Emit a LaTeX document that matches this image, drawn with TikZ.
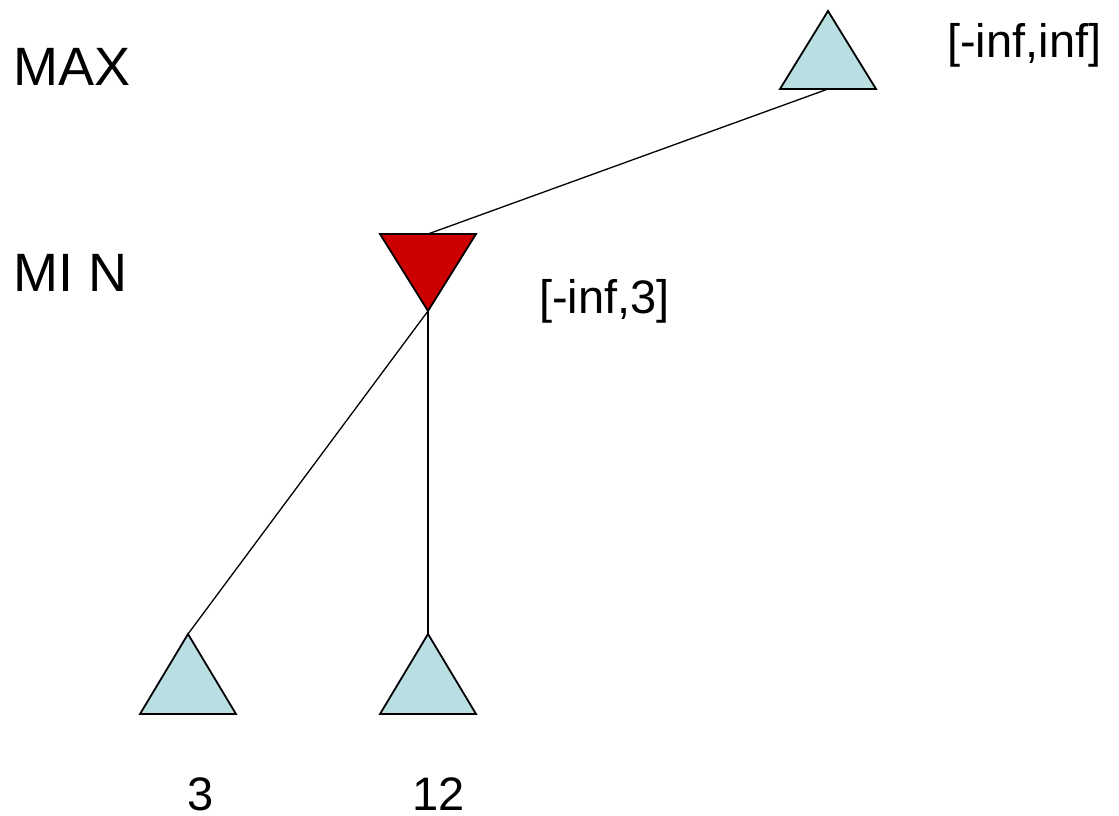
\documentclass[tikz,border=0pt]{standalone}
\usepackage{fontspec}
\setmainfont{Liberation Sans}
\definecolor{TreeBlue}{HTML}{B9DFE3}
\definecolor{TreeRed}{HTML}{CC0000}

\begin{document}
\begin{tikzpicture}[x=1bp,y=-1bp,
  tri/.style={draw=black,line width=1.8bp,line join=miter},
  maxtri/.style={tri,fill=TreeBlue},
  mintri/.style={tri,fill=TreeRed},
  edge/.style={draw=black,line width=1.3bp},
  big/.style={inner sep=0pt,anchor=base west,font=\fontsize{54bp}{60bp}\selectfont},
  small/.style={inner sep=0pt,font=\fontsize{47bp}{54bp}\selectfont}]
  \useasboundingbox (0,0) rectangle (1119,816);
  % tree points
  \coordinate (root) at (828,11);
  \coordinate (rootbase) at (828,89);
  \coordinate (mintop) at (428,234);
  \coordinate (min) at (428,311);
  \coordinate (leafa) at (188,634);
  \coordinate (leafb) at (428,634);
  % connectors first, triangles on top
  \draw[edge] (rootbase) -- (mintop);
  \draw[edge] (min) -- (leafa);
  \draw[edge] (min) -- (leafb);
  % triangles
  \draw[maxtri] (root) -- ++(48,78) -- ++(-96,0) -- cycle;
  \draw[mintri] (min) -- ++(48,-77) -- ++(-96,0) -- cycle;
  \foreach \leaf in {leafa,leafb}
    \draw[maxtri] (\leaf) -- ++(48,80) -- ++(-96,0) -- cycle;
  % labels
  \node[big] (maxlbl) at (13,86) {MAX};
  \node[big] (minlbl) at (13,291) {MI N};
  \node[small,anchor=base west] (rootval) at (947,58) {[-inf,inf]};
  \node[small,anchor=base west] (minval) at (539,313) {[-inf,3]};
  \node[small,anchor=base] (leafaval) at (201,810) {3};
  \node[small,anchor=base] (leafbval) at (439,810) {12};
\end{tikzpicture}
\end{document}
